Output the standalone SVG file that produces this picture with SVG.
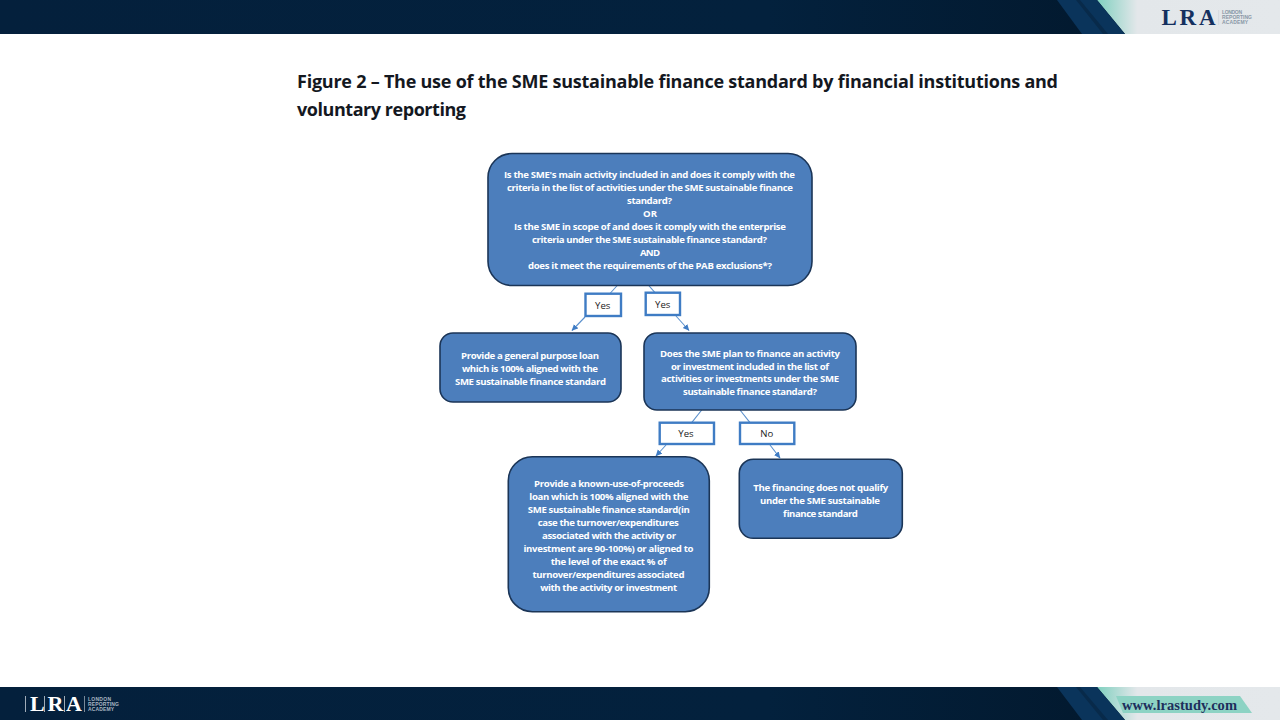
<svg xmlns="http://www.w3.org/2000/svg" width="1280" height="720" viewBox="0 0 1280 720">
<style>
.box{fill:#4c7ebc;stroke:#1b3557;stroke-width:1.6}
.lab{fill:#fff;stroke:#3f7cc4;stroke-width:2.4}
.t{font-family:"Open Sans","Liberation Sans",sans-serif;font-size:9.6px;font-weight:700;fill:#fff;text-anchor:middle}
.y{font-family:"Open Sans","Liberation Sans",sans-serif;font-size:9.6px;fill:#222;text-anchor:middle}
.title{font-family:"Open Sans","Liberation Sans",sans-serif;font-size:18px;font-weight:700;fill:#14181f}
.c{fill:none;stroke:#5b90cc;stroke-width:1.1}
.ls{font-family:"Liberation Sans",sans-serif;font-size:5px;font-weight:700}
.lra{font-family:"Liberation Serif",serif;font-weight:700}
</style>
<defs>
<marker id="a" markerWidth="7" markerHeight="7" refX="6" refY="3" orient="auto" markerUnits="userSpaceOnUse"><path d="M0 0L6.5 3L0 6Z" fill="#3f7cc4"/></marker>
<linearGradient id="nav" x1="0" x2="1" y1="0" y2="0"><stop offset="0" stop-color="#04203c"/><stop offset="0.6" stop-color="#03213d"/><stop offset="1" stop-color="#021527"/></linearGradient>
<linearGradient id="fade" x1="0" x2="1" y1="0" y2="0"><stop offset="0" stop-color="#7fd0bf"/><stop offset="0.22" stop-color="#e3e7ea"/><stop offset="1" stop-color="#e4e8eb"/></linearGradient>
</defs>
<rect width="1280" height="720" fill="#fff"/>
<g id="header">
<rect width="1280" height="34" fill="url(#nav)"/>
<polygon points="1097,0 1280,0 1280,34 1125,34" fill="url(#fade)"/>
<polygon points="1057,0 1097,0 1125,34 1082,34" fill="#0a345b"/>
<polygon points="1076,0 1080,0 1108,34 1103,34" fill="#082a4a"/>
<text class="lra" x="1161.500" y="25" font-size="23" fill="#14305f" textLength="54">LRA</text>
<rect x="1218.500" y="10" width="0.6" height="15" fill="#c9d0d7"/>
<g class="ls" fill="#8997a6"><text x="1222" y="14" textLength="20">LONDON</text><text x="1222" y="19" textLength="30">REPORTING</text><text x="1222" y="24" textLength="26">ACADEMY</text></g>
</g>
<g id="footer">
<rect y="687" width="1280" height="33" fill="url(#nav)"/>
<polygon points="1097,687 1280,687 1280,720 1125,720" fill="url(#fade)"/>
<polygon points="1057,687 1097,687 1125,720 1082,720" fill="#0a345b"/>
<polygon points="1076,687 1080,687 1108,720 1103,720" fill="#082a4a"/>
<polygon points="1116,696 1240,696 1252,713 1123,713" fill="#8dd3c4"/>
<text class="lra" x="1122" y="710" font-size="14.500" fill="#1d2f5c" textLength="115">www.lrastudy.com</text>
<text class="lra" x="30" y="711" font-size="22" fill="#fff" textLength="52">LRA</text>
<g fill="#c9d0d7"><rect x="25" y="696" width="0.8" height="16"/><rect x="44" y="696" width="0.8" height="16"/><rect x="64" y="696" width="0.8" height="16"/><rect x="84" y="696" width="0.6" height="16"/></g>
<g class="ls" fill="#aab6c2"><text x="88" y="700.500" textLength="23">LONDON</text><text x="88" y="705.500" textLength="31">REPORTING</text><text x="88" y="710.500" textLength="26">ACADEMY</text></g>
</g>
<g id="title" class="title">
<text x="297" y="87.500" textLength="761">Figure 2 – The use of the SME sustainable finance standard by financial institutions and</text>
<text x="297" y="115.500" textLength="169">voluntary reporting</text>
</g>
<g id="connectors" class="c">
<path d="M617.700 285L610 293.500"/>
<path d="M585 317L572 330.500" marker-end="url(#a)"/>
<path d="M648.300 285L655 292.700"/>
<path d="M676 316L689 330.500" marker-end="url(#a)"/>
<path d="M701.700 410L691.700 422.700"/>
<path d="M740 410L750 422.700"/>
<path d="M666 445L656 456" marker-end="url(#a)"/>
<path d="M770 445L780 458" marker-end="url(#a)"/>
</g>
<g id="q1"><rect class="box" x="488" y="153.500" width="324" height="132" rx="24"/>
<g class="t">
<text x="649.500" y="177.500" textLength="291">Is the SME's main activity included in and does it comply with the</text>
<text x="650" y="190.500" textLength="286">criteria in the list of activities under the SME sustainable finance</text>
<text x="649.500" y="203.500" textLength="45">standard?</text>
<text x="650" y="216.500" textLength="14">OR</text>
<text x="650" y="229.500" textLength="272">Is the SME in scope of and does it comply with the enterprise</text>
<text x="649.500" y="242.500" textLength="235">criteria under the SME sustainable finance standard?</text>
<text x="650" y="255.500" textLength="20">AND</text>
<text x="650" y="269" textLength="244">does it meet the requirements of the PAB exclusions*?</text>
</g></g>
<g id="lab1"><rect class="lab" x="585.500" y="293.700" width="35.500" height="22.300"/><text class="y" x="602.700" y="308.500">Yes</text></g>
<g id="lab2"><rect class="lab" x="645.700" y="292.700" width="34.300" height="22.300"/><text class="y" x="662.700" y="307.800">Yes</text></g>
<g id="a1"><rect class="box" x="440" y="333" width="181" height="69" rx="13"/>
<g class="t">
<text x="530" y="358.500" textLength="138">Provide a general purpose loan</text>
<text x="530" y="371.500" textLength="136">which is 100% aligned with the</text>
<text x="530.500" y="384.500" textLength="151">SME sustainable finance standard</text>
</g></g>
<g id="q2"><rect class="box" x="644" y="333" width="212" height="77" rx="13"/>
<g class="t">
<text x="750" y="356.500" textLength="180">Does the SME plan to finance an activity</text>
<text x="750" y="369.500" textLength="158">or investment included in the list of</text>
<text x="750" y="382" textLength="178">activities or investments under the SME</text>
<text x="750" y="395" textLength="134">sustainable finance standard?</text>
</g></g>
<g id="lab3"><rect class="lab" x="659.700" y="422.700" width="54.300" height="21.300"/><text class="y" x="686" y="437">Yes</text></g>
<g id="lab4"><rect class="lab" x="740" y="422.700" width="54.300" height="21.300"/><text class="y" x="766.700" y="437">No</text></g>
<g id="a2"><rect class="box" x="508.300" y="456.700" width="201" height="155" rx="24"/>
<g class="t">
<text x="609" y="486.800" textLength="150">Provide a known-use-of-proceeds</text>
<text x="608.800" y="499.800" textLength="159">loan which is 100% aligned with the</text>
<text x="608.800" y="512.800" textLength="162">SME sustainable finance standard(in</text>
<text x="608.300" y="526.200" textLength="141">case the turnover/expenditures</text>
<text x="609" y="539.200" textLength="134">associated with the activity or</text>
<text x="608.500" y="552.200" textLength="170">investment are 90-100%) or aligned to</text>
<text x="608.700" y="565.200" textLength="116">the level of the exact % of</text>
<text x="608.500" y="578.200" textLength="152">turnover/expenditures associated</text>
<text x="608.700" y="591.200" textLength="137">with the activity or investment</text>
</g></g>
<g id="a3"><rect class="box" x="739.300" y="459.300" width="163" height="79" rx="14"/>
<g class="t">
<text x="820.800" y="491.200" textLength="135">The financing does not qualify</text>
<text x="820" y="504.200" textLength="120">under the SME sustainable</text>
<text x="820.200" y="517.200" textLength="75">finance standard</text>
</g></g>
</svg>
